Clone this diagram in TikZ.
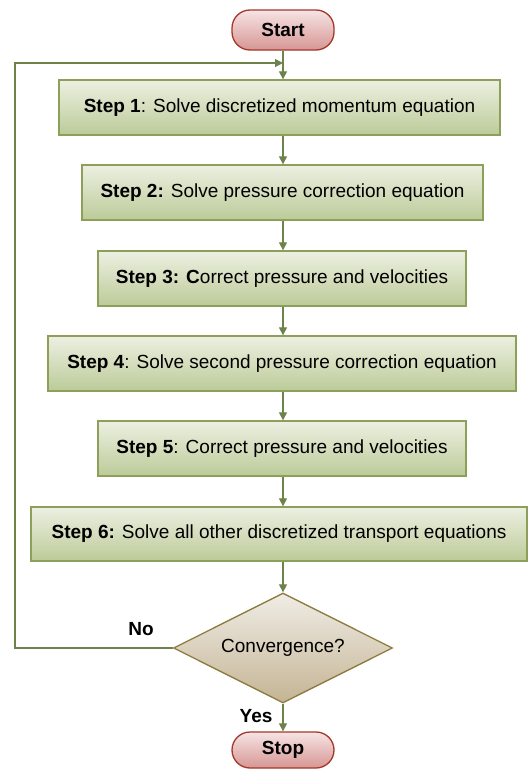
\documentclass[tikz,border=0pt]{standalone}
\usepackage{fontspec}
\setmainfont{Liberation Sans}
\usetikzlibrary{shapes.geometric,arrows.meta}
\definecolor{boxline}{RGB}{140,160,90}
\definecolor{boxtop}{RGB}{236,240,226}
\definecolor{boxbot}{RGB}{188,203,152}
\definecolor{arr}{RGB}{110,130,75}
\definecolor{termline}{RGB}{165,55,40}
\definecolor{termtop}{RGB}{246,228,228}
\definecolor{termbot}{RGB}{214,150,148}
\definecolor{dialine}{RGB}{140,122,60}
\definecolor{diatop}{RGB}{240,237,230}
\definecolor{diabot}{RGB}{196,180,148}
\tikzset{
  txt/.style={font=\fontsize{19}{22}\selectfont},
  stepbox/.style={txt, draw=boxline, line width=1.3pt, top color=boxtop, bottom color=boxbot,
    minimum height=55pt, inner sep=0pt},
  term/.style={draw=termline, line width=1.3pt, top color=termtop, bottom color=termbot,
    rounded corners=18pt, minimum width=102pt, inner sep=0pt, font=\fontsize{19}{22}\selectfont\bfseries},
  decide/.style={txt, diamond, draw=dialine, line width=1.3pt, top color=diatop, bottom color=diabot,
    minimum width=219pt, minimum height=110pt, aspect=2, inner sep=0pt},
  flow/.style={draw=arr, line width=1.1pt, -{Triangle[width=8pt,length=8pt]}},
  lbl/.style={font=\fontsize{19}{22}\selectfont\bfseries}
}
\begin{document}
\begin{tikzpicture}[x=1pt,y=-1pt]
\useasboundingbox (0,0) rectangle (528,771);
\node[term, minimum height=40pt] (start) at (283,30) {Start};
\node[stepbox, minimum width=441pt] (s1) at (279.5,107.5) {\textbf{Step 1}: Solve discretized momentum equation};
\node[stepbox, minimum width=401pt] (s2) at (282.5,192.5) {\textbf{Step 2:} Solve pressure correction equation};
\node[stepbox, minimum width=368pt] (s3) at (282,278.5) {\textbf{Step 3: C}orrect pressure and velocities};
\node[stepbox, minimum width=468pt] (s4) at (282,363.5) {\textbf{Step 4}: Solve second pressure correction equation};
\node[stepbox, minimum width=368pt] (s5) at (282,448.5) {\textbf{Step 5}: Correct pressure and velocities};
\node[stepbox, minimum width=496pt, minimum height=54pt] (s6) at (279,534) {\textbf{Step 6:} Solve all other discretized transport equations};
\node[decide] (conv) at (283,648) {Convergence?};
\node[term, minimum height=36pt] (stop) at (283,750) {Stop};
\coordinate (loop) at (283,63);
\coordinate (lb) at (15,648);
\coordinate (lt) at (15,63);
\node[lbl] (no) at (141,629) {No};
\node[lbl] (yes) at (256,716) {Yes};
\draw[flow] (start) -- (s1.north -| start);
\draw[flow] (s1.south -| start) -- (s2.north -| start);
\draw[flow] (s2.south -| start) -- (s3.north -| start);
\draw[flow] (s3.south -| start) -- (s4.north -| start);
\draw[flow] (s4.south -| start) -- (s5.north -| start);
\draw[flow] (s5.south -| start) -- (s6.north -| start);
\draw[flow] (s6.south -| start) -- (conv);
\draw[flow] (conv) -- (stop);
\draw[flow] (conv.west) -- (lb) -- (lt) -- (loop);
\end{tikzpicture}
\end{document}
